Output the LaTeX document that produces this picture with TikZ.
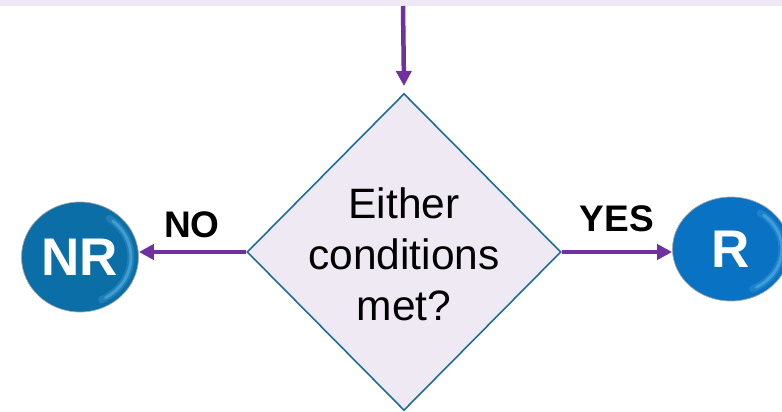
\documentclass[tikz,border=0pt]{standalone}
\usepackage{fontspec}
\setmainfont{Liberation Sans}
\usetikzlibrary{shapes.geometric,arrows.meta}
\definecolor{band}{HTML}{EEE8F4}
\definecolor{dfill}{HTML}{EEE9F3}
\definecolor{dline}{HTML}{1E6E99}
\definecolor{arr}{HTML}{7030A0}
\definecolor{nrblue}{HTML}{0B6EA6}
\definecolor{rblue}{HTML}{0A72C2}
\definecolor{rimblue}{HTML}{5DB4E8}
\tikzset{
  flow/.style={draw=arr, line width=4.5pt, -{Triangle[length=15pt,width=15pt]}},
  decision/.style={diamond, draw=dline, line width=1.6pt, fill=dfill, minimum width=314pt, minimum height=317pt, inner sep=0pt},
  dtext/.style={align=center, font=\fontsize{42.5}{51}\selectfont},
  lbl/.style={font=\fontsize{37}{40}\selectfont\bfseries},
  ball/.style={ellipse, inner sep=0pt, draw=gray!70, line width=0.7pt},
  rimsoft/.style={draw=rimblue, line width=7pt, opacity=0.25, line cap=round},
  rim/.style={draw=rimblue, line width=3pt, opacity=0.55, line cap=round},
  balltext/.style={text=white, font=\fontsize{53}{60}\selectfont\bfseries}
}
\begin{document}
\begin{tikzpicture}[x=1pt,y=-1pt]
\useasboundingbox (0,0) rectangle (782,412);
\fill[band] (0,0) rectangle (782,6);
% decision
\node[decision] (d) at (404,252) {};
\node[dtext] (dt) at (404,254) {Either\\conditions\\met?};
% NR ball
\node[ball, fill=nrblue, minimum width=117pt, minimum height=110pt] (nr) at (80,257) {};
\draw[rimsoft] (nr.center) ++(-65:51pt and 47pt) arc[start angle=-65, end angle=55, x radius=51pt, y radius=47pt];
\draw[rim] (nr.center) ++(-60:51pt and 47pt) arc[start angle=-60, end angle=50, x radius=51pt, y radius=47pt];
\node[balltext] (nrt) at (nr) {NR};
% R ball
\node[ball, fill=rblue, minimum width=117pt, minimum height=104pt] (r) at (731,249) {};
\draw[rimsoft] (r.center) ++(-65:51pt and 44pt) arc[start angle=-65, end angle=55, x radius=51pt, y radius=44pt];
\draw[rim] (r.center) ++(-60:51pt and 44pt) arc[start angle=-60, end angle=50, x radius=51pt, y radius=44pt];
\node[balltext] (rt) at (r) {R};
% connectors
\coordinate (top) at (403,6);
\draw[flow] (top) -- (d.north |- 0,86);
\draw[flow] (d.west) -- (d.west -| nr.east);
\draw[flow] (d.east) -- (d.east -| r.west);
\node[lbl] (no) at (192,225) {NO};
\node[lbl] (yes) at (617,219) {YES};
\end{tikzpicture}
\end{document}
